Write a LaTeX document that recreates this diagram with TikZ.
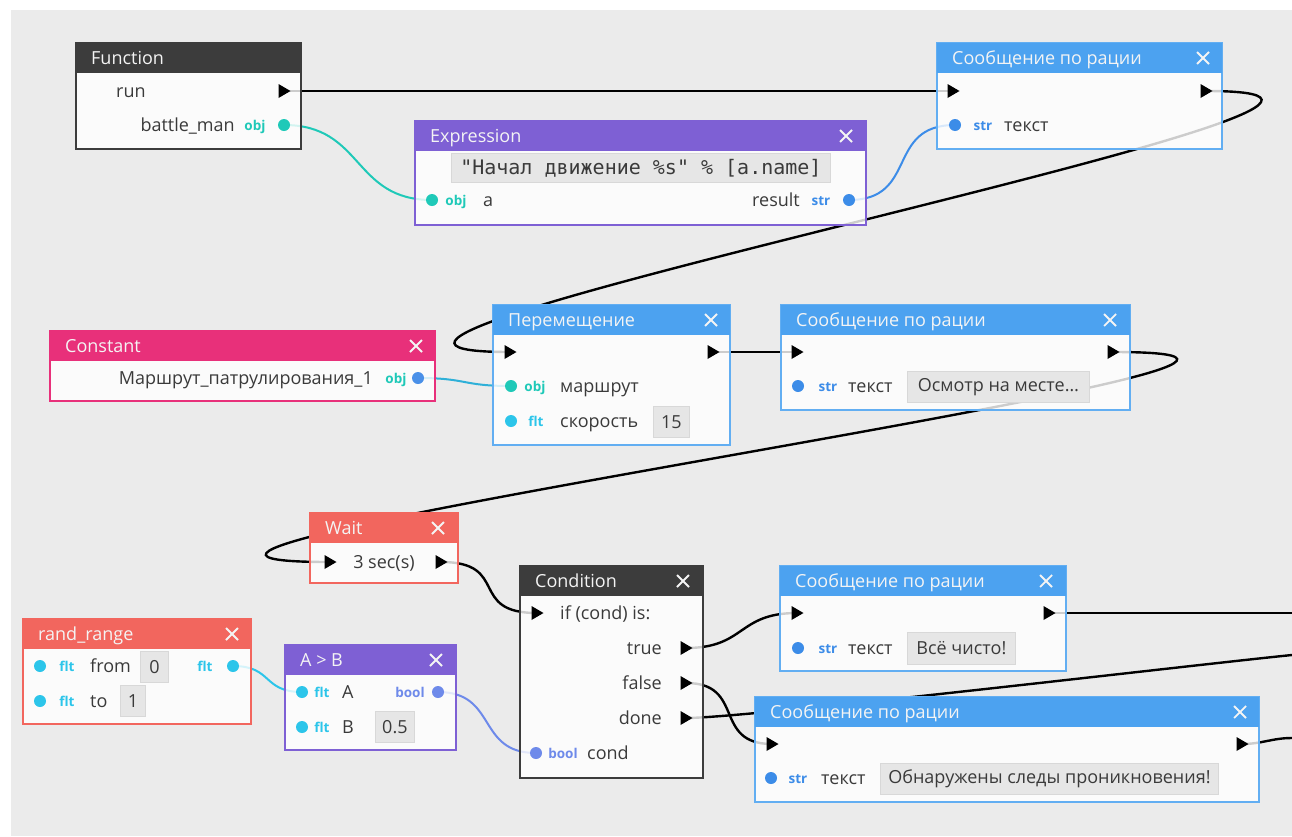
\documentclass[tikz,border=0pt]{standalone}
\usepackage{fontspec}
\setmainfont{Open Sans}
\newfontfamily\codefont{DejaVu Sans Mono}
\definecolor{canvas}{HTML}{EBEBEB}
\definecolor{hdark}{HTML}{3C3C3C}
\definecolor{hpurple}{HTML}{7E60D4}
\definecolor{hblue}{HTML}{4CA2F0}
\definecolor{bblue}{HTML}{62AEF2}
\definecolor{hpink}{HTML}{E8307A}
\definecolor{hsalmon}{HTML}{F2665E}
\definecolor{txt}{HTML}{3A3A3A}
\definecolor{cobj}{HTML}{1FC9B8}
\definecolor{cstr}{HTML}{3C8CE8}
\definecolor{cflt}{HTML}{2CC5EA}
\definecolor{cbool}{HTML}{6E8AEA}
\definecolor{cconst}{HTML}{4A90E8}
\definecolor{cmix}{HTML}{2FB0D8}
\definecolor{valfill}{HTML}{E6E6E6}
\definecolor{valline}{HTML}{D8D8D8}
\definecolor{hdrtxt}{HTML}{F4F4F4}
\newcommand\gnode[8]{%
  \node[bodybox, draw=#7, minimum width={#4-#2}, minimum height={#5-#3}, anchor=north west] (#1) at (#2,#3) {};
  \node[hdrbox, fill=#6, minimum width={#4-#2}, anchor=north west] (#1-h) at (#2,#3) {};
  \node[hdrtext] (#1-t) at (#2+15,#3+15) {#8};}
\newcommand\closex[2]{\draw[closemark] (#1-6,#2-6) -- (#1+6,#2+6) (#1-6,#2+6) -- (#1+6,#2-6);}
\newcommand\xtri[1]{\fill[black] (#1) ++(-5.5,-7) -- ++(12,7) -- ++(-12,7) -- cycle;}
\newcommand\dpin[2]{\fill[#2] (#1) circle[radius=6];}
\begin{document}
\begin{tikzpicture}[x=1pt,y=-1pt,
  bodybox/.style={fill=white, fill opacity=0.8, draw opacity=1, line width=1.3, inner sep=0, outer sep=0},
  hdrbox/.style={minimum height=30, inner sep=0, outer sep=0},
  hdrtext/.style={anchor=mid west, text=hdrtxt, inner sep=0, yshift=-3.5pt, font=\fontsize{18}{21}\selectfont},
  lbl/.style={text=txt, inner sep=0, yshift=-3.5pt, font=\fontsize{18}{21}\selectfont},
  tlab/.style={inner sep=0, anchor=mid, yshift=-2.5pt, font=\fontsize{13.5}{15}\selectfont\bfseries},
  valbox/.style={fill=valfill, draw=valline, line width=0.8, inner sep=0, anchor=north west, text=txt, font=\fontsize{18}{21}\selectfont},
  exec/.style={draw=black, line width=2.4},
  data/.style={line width=2},
  closemark/.style={draw=hdrtxt, line width=1.8}
]
\useasboundingbox (0,0) rectangle (1292,836);
\fill[white] (0,0) rectangle (1292,836);
\fill[canvas] (11,10) rectangle (1292,836);
% ---------- ports ----------
\coordinate (fnRun) at (284,91);
\coordinate (fnBattle) at (284,125);
\coordinate (exA) at (432,200);
\coordinate (exRes) at (849,200);
\coordinate (m1In) at (953,91);
\coordinate (m1Out) at (1206,91);
\coordinate (m1Txt) at (955,125);
\coordinate (cnOut) at (418,378);
\coordinate (mvIn) at (510,352);
\coordinate (mvOut) at (713,352);
\coordinate (mvRoute) at (511,386);
\coordinate (mvSpeed) at (511,421);
\coordinate (m2In) at (797,352);
\coordinate (m2Out) at (1113,352);
\coordinate (m2Txt) at (798,386);
\coordinate (wtIn) at (330,562);
\coordinate (wtOut) at (441,562);
\coordinate (cdIn) at (537,613);
\coordinate (cdTrue) at (686,648);
\coordinate (cdFalse) at (686,683);
\coordinate (cdDone) at (686,718);
\coordinate (cdCond) at (536,753);
\coordinate (m3In) at (797,613);
\coordinate (m3Out) at (1049,613);
\coordinate (m3Txt) at (798,648);
\coordinate (m4In) at (772,744);
\coordinate (m4Out) at (1242,744);
\coordinate (m4Txt) at (771,778);
\coordinate (rrFrom) at (40,666);
\coordinate (rrTo) at (40,701);
\coordinate (rrOut) at (233,666);
\coordinate (abA) at (302,692);
\coordinate (abB) at (302,727);
\coordinate (abOut) at (438,692);
\coordinate (offDone) at (1292,655);
\coordinate (offM3) at (1292,613);
\coordinate (offM4) at (1292,738);
% ---------- connectors ----------
\draw[exec] (fnRun) -- (m1In);
\draw[exec] (m1Out) .. controls +(345,0) and +(-345,0) .. (mvIn);
\draw[exec] (mvOut) -- (m2In);
\draw[exec] (m2Out) .. controls +(395,0) and +(-395,0) .. (wtIn);
\draw[exec] (wtOut) .. controls +(70,0) and +(-70,0) .. (cdIn);
\draw[exec] (cdTrue) .. controls +(60,0) and +(-60,0) .. (m3In);
\draw[exec] (cdFalse) .. controls +(60,0) and +(-60,0) .. (m4In);
\draw[exec] (cdDone) .. controls +(60,0) and +(-100,10) .. (offDone);
\draw[exec] (m3Out) -- (offM3);
\draw[exec] (m4Out) .. controls +(20,0) and +(-20,0) .. (offM4);
\draw[data, cobj] (fnBattle) .. controls +(80,0) and +(-80,0) .. (exA);
\draw[data, cstr] (exRes) .. controls +(70,0) and +(-70,0) .. (m1Txt);
\draw[data, cmix] (cnOut) .. controls +(50,0) and +(-50,0) .. (mvRoute);
\draw[data, cflt] (rrOut) .. controls +(40,0) and +(-40,0) .. (abA);
\draw[data, cbool] (abOut) .. controls +(60,0) and +(-60,0) .. (cdCond);
% ---------- boxes ----------
\gnode{fn}{76}{43}{301}{149}{hdark}{hdark}{Function}
\gnode{ex}{415}{121}{866}{225}{hpurple}{hpurple}{Expression}
\closex{846}{136}
\gnode{ma}{937}{43}{1222}{149}{hblue}{bblue}{Сообщение по рации}
\closex{1203}{58}
\gnode{cn}{50}{331}{435}{401}{hpink}{hpink}{Constant}
\closex{416}{346}
\gnode{mv}{493}{305}{730}{445}{hblue}{bblue}{Перемещение}
\closex{711}{320}
\gnode{mb}{781}{305}{1130}{410}{hblue}{bblue}{Сообщение по рации}
\closex{1110}{320}
\gnode{wt}{310}{513}{458}{583}{hsalmon}{hsalmon}{Wait}
\closex{438}{528}
\gnode{cd}{520}{566}{703}{778}{hdark}{hdark}{Condition}
\closex{683}{581}
\gnode{mc}{780}{566}{1066}{671}{hblue}{bblue}{Сообщение по рации}
\closex{1046}{581}
\gnode{md}{755}{697}{1259}{802}{hblue}{bblue}{Сообщение по рации}
\closex{1240}{712}
\gnode{rr}{23}{619}{251}{724}{hsalmon}{hsalmon}{rand\_range}
\closex{232}{634}
\gnode{ab}{285}{645}{456}{750}{hpurple}{hpurple}{A > B}
\closex{436}{660}
% ---------- Function ----------
\node[lbl, anchor=mid west] (fnRunL) at (116,91) {run};
\node[lbl, anchor=mid east] (fnBattleL) at (235,125) {battle\_man};
\node[tlab, text=cobj] (fnBattleT) at (255,125) {obj};
\xtri{fnRun} \dpin{fnBattle}{cobj}
% ---------- Expression ----------
\node[valbox, minimum width=379, minimum height=29, font=\codefont\fontsize{20}{22}\selectfont] (exCode) at (451,153) {"Начал движение \%s" \% [a.name]};
\node[tlab, text=cobj] (exAT) at (456,200) {obj};
\node[lbl, anchor=mid west] (exAL) at (483,200) {a};
\node[lbl, anchor=mid east] (exResL) at (800,200) {result};
\node[tlab, text=cstr] (exResT) at (821,200) {str};
\dpin{exA}{cobj} \dpin{exRes}{cstr}
% ---------- Message 1 ----------
\xtri{m1In} \xtri{m1Out}
\dpin{m1Txt}{cstr}
\node[tlab, text=cstr] (m1TxtT) at (983,125) {str};
\node[lbl, anchor=mid west] (m1TxtL) at (1004,125) {текст};
% ---------- Constant ----------
\node[lbl, anchor=mid east] (cnL) at (373,378) {Маршрут\_патрулирования\_1};
\node[tlab, text=cobj] (cnT) at (396,378) {obj};
\dpin{cnOut}{cconst}
% ---------- Move ----------
\xtri{mvIn} \xtri{mvOut}
\dpin{mvRoute}{cobj} \dpin{mvSpeed}{cflt}
\node[tlab, text=cobj] (mvRouteT) at (535,386) {obj};
\node[lbl, anchor=mid west] (mvRouteL) at (560,386) {маршрут};
\node[tlab, text=cflt] (mvSpeedT) at (536,421) {flt};
\node[lbl, anchor=mid west] (mvSpeedL) at (560,421) {скорость};
\node[valbox, minimum width=36, minimum height=31] (mvSpeedV) at (653,406) {15};
% ---------- Message 2 ----------
\xtri{m2In} \xtri{m2Out}
\dpin{m2Txt}{cstr}
\node[tlab, text=cstr] (m2TxtT) at (828,386) {str};
\node[lbl, anchor=mid west] (m2TxtL) at (848,386) {текст};
\node[valbox, minimum width=182, minimum height=31] (m2TxtV) at (907,371) {Осмотр на месте…};
% ---------- Wait ----------
\xtri{wtIn} \xtri{wtOut}
\node[lbl, anchor=mid] (wtL) at (384,562) {3 sec(s)};
% ---------- Condition ----------
\xtri{cdIn} \xtri{cdTrue} \xtri{cdFalse} \xtri{cdDone}
\node[lbl, anchor=mid west] (cdInL) at (560,613) {if (cond) is:};
\node[lbl, anchor=mid east] (cdTrueL) at (662,648) {true};
\node[lbl, anchor=mid east] (cdFalseL) at (662,683) {false};
\node[lbl, anchor=mid east] (cdDoneL) at (662,718) {done};
\dpin{cdCond}{cbool}
\node[tlab, text=cbool] (cdCondT) at (563,753) {bool};
\node[lbl, anchor=mid west] (cdCondL) at (587,753) {cond};
% ---------- Message 3 ----------
\xtri{m3In} \xtri{m3Out}
\dpin{m3Txt}{cstr}
\node[tlab, text=cstr] (m3TxtT) at (828,648) {str};
\node[lbl, anchor=mid west] (m3TxtL) at (848,648) {текст};
\node[valbox, minimum width=108, minimum height=32] (m3TxtV) at (907,632) {Всё чисто!};
% ---------- Message 4 ----------
\xtri{m4In} \xtri{m4Out}
\dpin{m4Txt}{cstr}
\node[tlab, text=cstr] (m4TxtT) at (798,778) {str};
\node[lbl, anchor=mid west] (m4TxtL) at (821,778) {текст};
\node[valbox, minimum width=338, minimum height=31] (m4TxtV) at (880,763) {Обнаружены следы проникновения!};
% ---------- rand_range ----------
\dpin{rrFrom}{cflt} \dpin{rrTo}{cflt} \dpin{rrOut}{cflt}
\node[tlab, text=cflt] (rrFromT) at (67,666) {flt};
\node[lbl, anchor=mid west] (rrFromL) at (90,666) {from};
\node[valbox, minimum width=28, minimum height=31] (rrFromV) at (140,651) {0};
\node[tlab, text=cflt] (rrOutT) at (205,666) {flt};
\node[tlab, text=cflt] (rrToT) at (67,701) {flt};
\node[lbl, anchor=mid west] (rrToL) at (90,701) {to};
\node[valbox, minimum width=25, minimum height=31] (rrToV) at (120,685) {1};
% ---------- A > B ----------
\dpin{abA}{cflt} \dpin{abB}{cflt} \dpin{abOut}{cbool}
\node[tlab, text=cflt] (abAT) at (322,692) {flt};
\node[lbl, anchor=mid west] (abAL) at (342,692) {A};
\node[tlab, text=cbool] (abOutT) at (410,692) {bool};
\node[tlab, text=cflt] (abBT) at (322,727) {flt};
\node[lbl, anchor=mid west] (abBL) at (342,727) {B};
\node[valbox, minimum width=39, minimum height=31] (abBV) at (375,711) {0.5};
\end{tikzpicture}
\end{document}
